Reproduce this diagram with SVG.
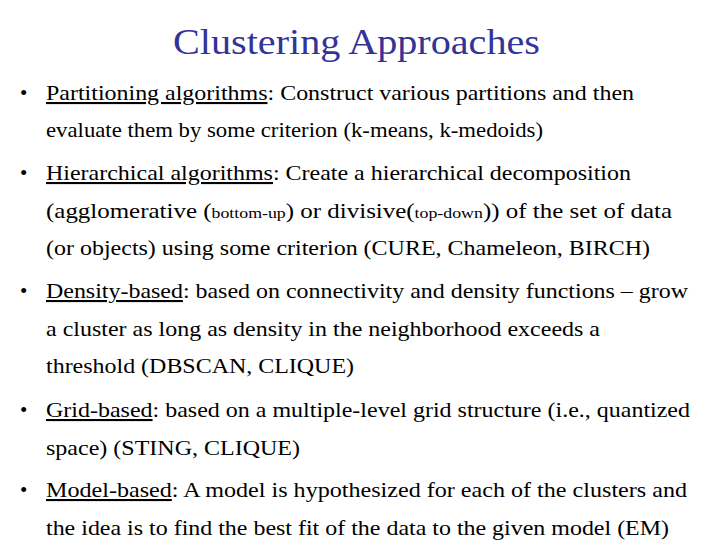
<svg xmlns="http://www.w3.org/2000/svg" width="720" height="540" viewBox="0 0 720 540" font-family="'Liberation Serif', 'DejaVu Serif', serif" font-size="21">
<style>
.t{fill:#333399;font-size:35px}
.u{text-decoration:underline}
.s{font-size:15px}
</style>
<rect width="720" height="540" fill="#fff"/>
<text class="t" x="173" y="54" textLength="367" lengthAdjust="spacingAndGlyphs">Clustering Approaches</text>
<g id="b1">
<text x="20" y="100">•</text>
<text x="46" y="100" textLength="588" lengthAdjust="spacingAndGlyphs"><tspan class="u">Partitioning algorithms</tspan>: Construct various partitions and then</text>
<text x="46" y="137" textLength="497" lengthAdjust="spacingAndGlyphs">evaluate them by some criterion (k-means, k-medoids)</text>
</g>
<g id="b2">
<text x="20" y="180">•</text>
<text x="46" y="180" textLength="585" lengthAdjust="spacingAndGlyphs"><tspan class="u">Hierarchical algorithms</tspan>: Create a hierarchical decomposition</text>
<text x="46" y="218" textLength="626" lengthAdjust="spacingAndGlyphs">(agglomerative (<tspan class="s">bottom-up</tspan>) or divisive(<tspan class="s">top-down</tspan>)) of the set of data</text>
<text x="46" y="255" textLength="604" lengthAdjust="spacingAndGlyphs">(or objects) using some criterion (CURE, Chameleon, BIRCH)</text>
</g>
<g id="b3">
<text x="20" y="298">•</text>
<text x="46" y="298" textLength="642" lengthAdjust="spacingAndGlyphs"><tspan class="u">Density-based</tspan>: based on connectivity and density functions – grow</text>
<text x="46" y="336" textLength="554" lengthAdjust="spacingAndGlyphs">a cluster as long as density in the neighborhood exceeds a</text>
<text x="46" y="373" textLength="308" lengthAdjust="spacingAndGlyphs">threshold (DBSCAN, CLIQUE)</text>
</g>
<g id="b4">
<text x="20" y="417">•</text>
<text x="46" y="417" textLength="644" lengthAdjust="spacingAndGlyphs"><tspan class="u">Grid-based</tspan>: based on a multiple-level grid structure (i.e., quantized</text>
<text x="46" y="455" textLength="254" lengthAdjust="spacingAndGlyphs">space) (STING, CLIQUE)</text>
</g>
<g id="b5">
<text x="20" y="497">•</text>
<text x="46" y="497" textLength="641" lengthAdjust="spacingAndGlyphs"><tspan class="u">Model-based</tspan>: A model is hypothesized for each of the clusters and</text>
<text x="46" y="535" textLength="623" lengthAdjust="spacingAndGlyphs">the idea is to find the best fit of the data to the given model (EM)</text>
</g>
<g id="connectors"/>
</svg>
